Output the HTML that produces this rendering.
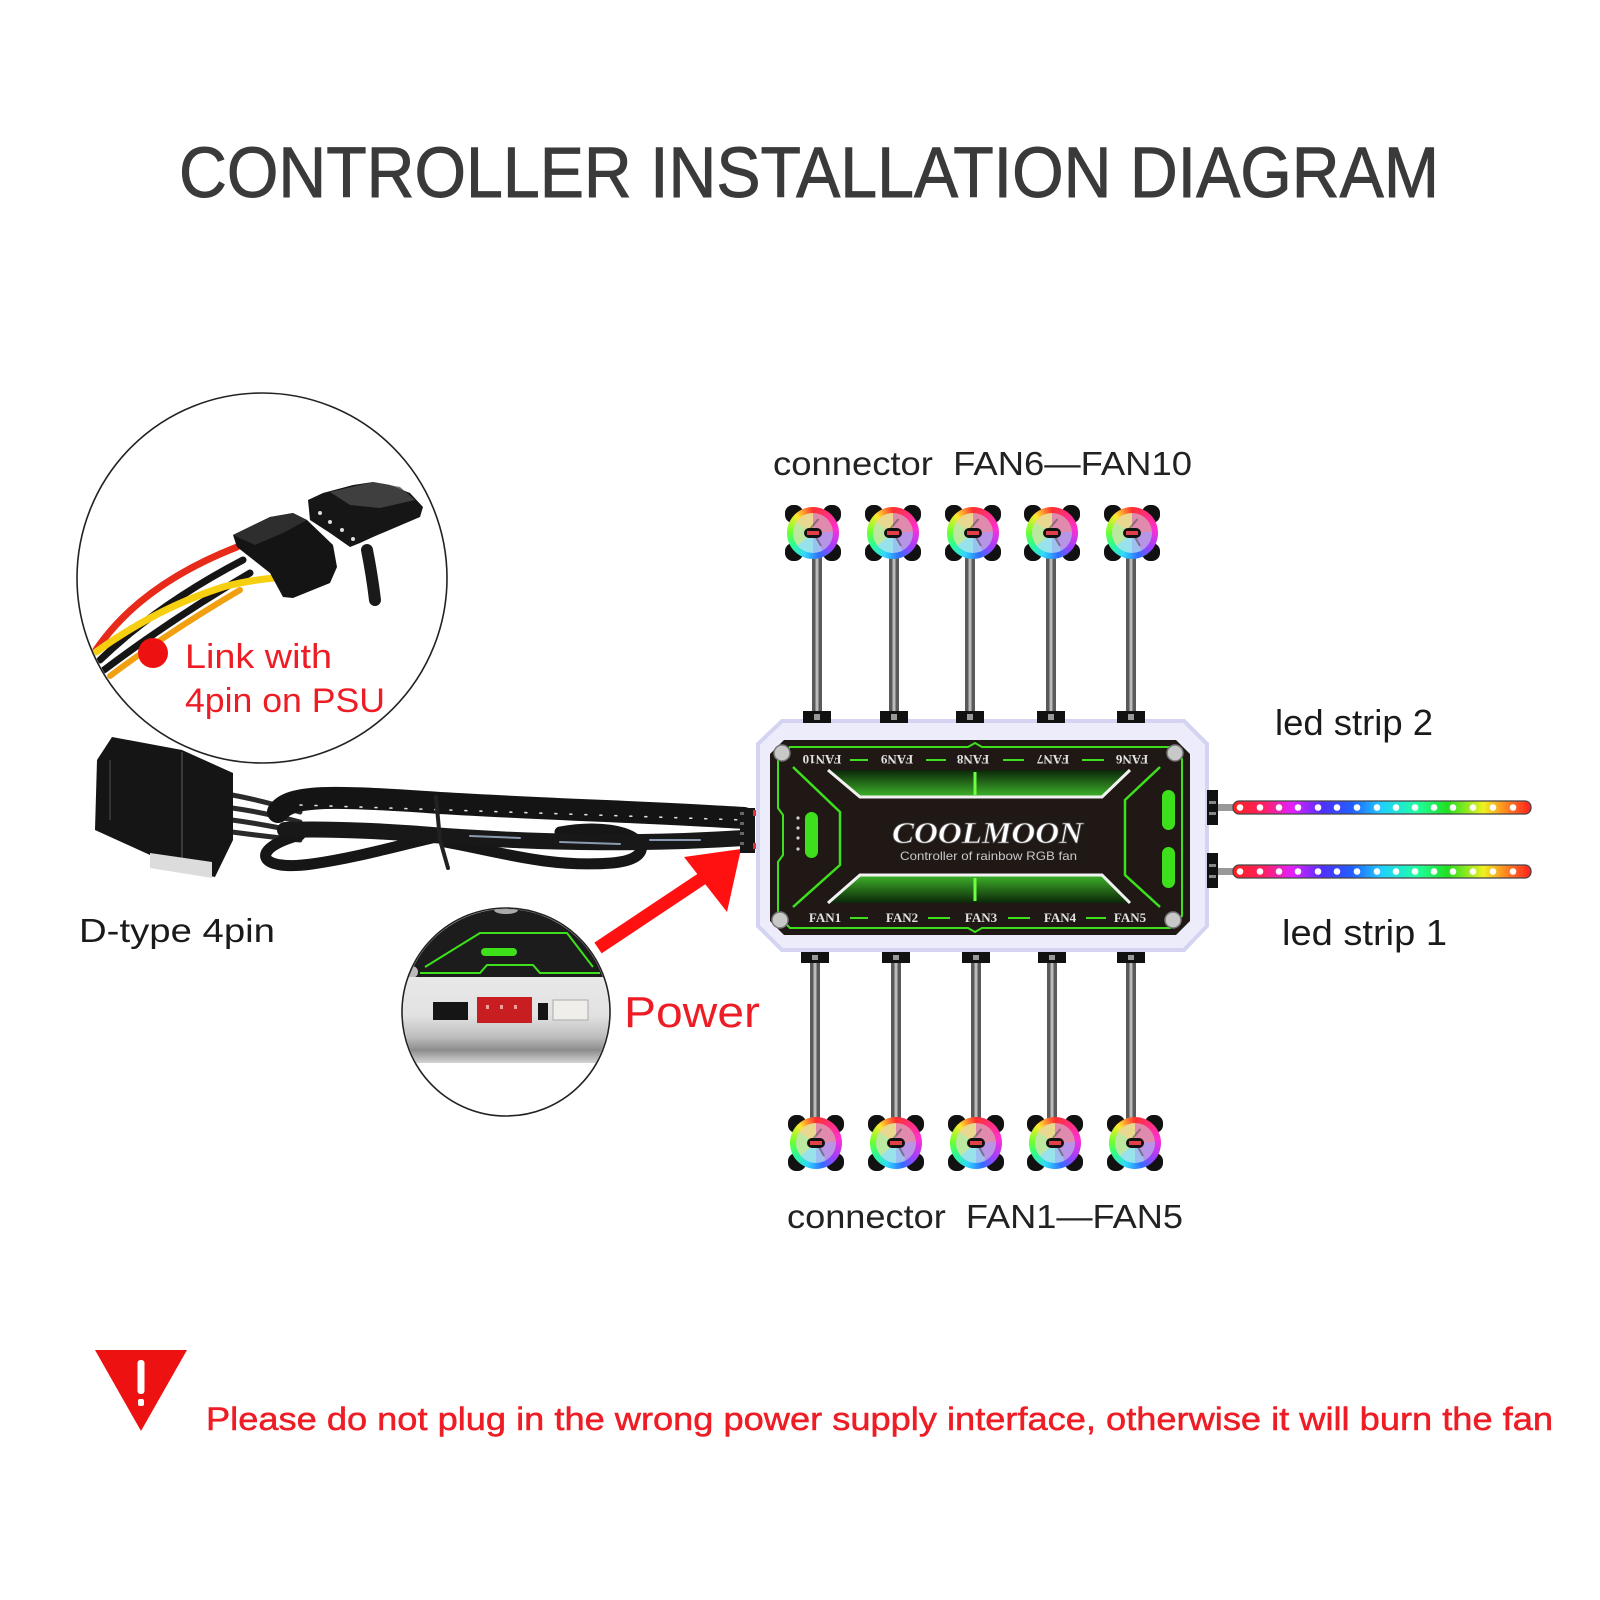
<!DOCTYPE html>
<html><head><meta charset="utf-8"><style>
html,body{margin:0;padding:0;background:#fff;}
#wrap{position:relative;width:1600px;height:1600px;overflow:hidden;background:#fff;}
svg{position:absolute;left:0;top:0;}
.fan{position:absolute;width:56px;height:56px;}
.fan .c{position:absolute;width:18px;height:18px;background:#111;border-radius:8px;}
.fan .ring{position:absolute;left:2px;top:2px;width:52px;height:52px;border-radius:50%;
background:conic-gradient(from 0deg,#ff3030,#ff30d0 22%,#9a40ff 36%,#3070ff 46%,#30d8ff 56%,#30ff80 68%,#70ff30 76%,#ffe830 88%,#ff3030);}
.fan .in{position:absolute;left:8px;top:8px;width:40px;height:40px;border-radius:50%;
background:conic-gradient(from 0deg,#e08aae 0 24%,#b894e6 24% 42%,#9cc0f0 42% 50%,#98e2ec 50% 64%,#bce8a0 64% 84%,#e8d890 84% 100%);}
.fan .bl{position:absolute;left:27px;top:12px;width:2px;height:17px;background:#555;transform:rotate(40deg);opacity:.6}
.fan .bl2{position:absolute;left:31px;top:26px;width:2px;height:16px;background:#555;transform:rotate(-30deg);opacity:.6}
.fan .hub{position:absolute;left:19px;top:23px;width:18px;height:10px;border-radius:5px;background:#111;}
.fan .hub i{position:absolute;left:3px;top:3px;width:12px;height:4px;background:#e04048;}
</style></head><body><div id="wrap">
<svg width="1600" height="1600" viewBox="0 0 1600 1600" xmlns="http://www.w3.org/2000/svg">
<defs>
<clipPath id="c1"><circle cx="262" cy="578" r="184"/></clipPath>
<clipPath id="c2"><circle cx="506" cy="1012" r="103"/></clipPath>
<linearGradient id="gtop" x1="0" y1="0" x2="0" y2="1"><stop offset="0" stop-color="#0c260a"/><stop offset="1" stop-color="#3fb52a"/></linearGradient>
<linearGradient id="gbot" x1="0" y1="0" x2="0" y2="1"><stop offset="0" stop-color="#3fb52a"/><stop offset="1" stop-color="#0c260a"/></linearGradient>
<linearGradient id="led" x1="0" y1="0" x2="1" y2="0">
<stop offset="0" stop-color="#ff2020"/><stop offset="0.1" stop-color="#ff2060"/><stop offset="0.2" stop-color="#e020ff"/><stop offset="0.3" stop-color="#5030ff"/><stop offset="0.4" stop-color="#2060ff"/><stop offset="0.5" stop-color="#20d0ff"/><stop offset="0.62" stop-color="#20ffa0"/><stop offset="0.72" stop-color="#20e020"/><stop offset="0.84" stop-color="#f0f020"/><stop offset="0.92" stop-color="#ff8020"/><stop offset="1" stop-color="#ff2020"/></linearGradient>
<linearGradient id="band" x1="0" y1="0" x2="0" y2="1"><stop offset="0" stop-color="#e8e8e8"/><stop offset="0.45" stop-color="#e2e2e2"/><stop offset="0.7" stop-color="#bdbdbd"/><stop offset="0.85" stop-color="#8c8c8c"/><stop offset="1" stop-color="#d4d4d4"/></linearGradient>
</defs>

<!-- Title -->
<text x="179" y="197" font-family="Liberation Sans, sans-serif" font-size="71" fill="#3a3a3a" stroke="#3a3a3a" stroke-width="0.9" textLength="1260" lengthAdjust="spacingAndGlyphs">CONTROLLER INSTALLATION DIAGRAM</text>

<!-- PSU circle -->
<circle cx="262" cy="578" r="185" fill="#fff" stroke="#222" stroke-width="1.6"/>
<g clip-path="url(#c1)" fill="none" stroke-linecap="round">
<path d="M96,650 Q140,585 237,547" stroke="#e82a1a" stroke-width="7"/>
<path d="M100,660 Q157,605 243,560" stroke="#151515" stroke-width="7"/>
<path d="M104,670 Q173,618 250,573" stroke="#151515" stroke-width="7"/>
<path d="M110,676 Q167,633 240,590" stroke="#f0a010" stroke-width="6"/>
<path d="M96,652 Q157,608 223,587 Q250,580 275,578" stroke="#f6d010" stroke-width="7"/>
<path d="M367,550 Q372,575 375,600" stroke="#1a1a1a" stroke-width="12"/>
</g>
<polygon points="233,535 270,517 293,513 307,520 333,545 337,567 330,583 293,598 283,597 270,573 237,547" fill="#141414"/>
<polygon points="233,535 270,517 293,513 307,520 285,532 255,545" fill="#2e2e2e"/>
<polygon points="308,500 323,493 353,485 373,482 390,485 410,493 423,507 420,517 373,537 360,543 350,547 330,533 310,520" fill="#161616"/>
<polygon points="330,492 373,482 400,487 415,500 380,508 350,505" fill="#4a4a4a" opacity="0.8"/>
<circle cx="320" cy="513" r="2" fill="#ddd"/><circle cx="330" cy="522" r="2" fill="#ddd"/><circle cx="342" cy="530" r="2" fill="#ddd"/><circle cx="353" cy="539" r="2" fill="#ddd"/>
<circle cx="153" cy="653" r="15" fill="#ee1111"/>
<text x="185" y="668" font-family="Liberation Sans, sans-serif" font-size="34" fill="#ee1c24" textLength="147" lengthAdjust="spacingAndGlyphs">Link with</text>
<text x="185" y="712" font-family="Liberation Sans, sans-serif" font-size="34" fill="#ee1c24" textLength="200" lengthAdjust="spacingAndGlyphs">4pin on PSU</text>

<!-- D-type cable -->
<g fill="none" stroke-linecap="round">
<path d="M232,795 Q260,800 300,812" stroke="#2a2a2a" stroke-width="5"/>
<path d="M232,808 Q262,812 300,822" stroke="#2a2a2a" stroke-width="5"/>
<path d="M232,820 Q262,824 300,832" stroke="#2a2a2a" stroke-width="5"/>
<path d="M232,832 Q262,836 300,840" stroke="#2a2a2a" stroke-width="5"/>
<path d="M300,835 C250,848 255,872 312,864 C360,857 400,845 445,835" stroke="#161616" stroke-width="11"/>
<path d="M560,832 C640,818 668,858 612,863 C550,868 500,852 445,842" stroke="#161616" stroke-width="11"/>
<path d="M278,812 C290,795 330,795 440,803 C560,810 650,812 744,818" stroke="#141414" stroke-width="22"/>
<path d="M285,830 C330,828 400,832 445,836 C560,844 650,844 744,838" stroke="#181818" stroke-width="16"/>
<path d="M300,805 L744,820" stroke="#dcdcdc" stroke-width="1.6" stroke-dasharray="2 13"/>
<path d="M470,836 L520,838 M560,842 L620,844 M650,840 L700,840" stroke="#8a9ab0" stroke-width="2"/>
<path d="M436,797 L440,840 L448,868" stroke="#222" stroke-width="4"/>
</g>
<polygon points="112,737 182,750 233,773 233,840 215,877 175,868 150,855 95,830 97,760" fill="#151515"/>
<path d="M182,752 L182,860" stroke="#3a3a3a" stroke-width="2"/>
<path d="M110,760 L110,820" stroke="#333" stroke-width="2"/>
<polygon points="150,853 212,862 212,878 150,868" fill="#dcdcdc"/>
<text x="79" y="942" font-family="Liberation Sans, sans-serif" font-size="33" fill="#1a1a1a" textLength="196" lengthAdjust="spacingAndGlyphs">D-type 4pin</text>

<!-- Power circle -->
<circle cx="506" cy="1012" r="104" fill="#fff" stroke="#222" stroke-width="1.6"/>
<g clip-path="url(#c2)">
<rect x="400" y="900" width="215" height="78" fill="#1c1c1c"/>
<ellipse cx="506" cy="910" rx="12" ry="4" fill="#aaa"/>
<polyline points="425,967 480,933 567,933 593,967" fill="none" stroke="#3ee01c" stroke-width="2"/>
<polyline points="420,973 480,973 487,965 533,965 540,973 600,973" fill="none" stroke="#3ee01c" stroke-width="2"/>
<rect x="481" y="948" width="36" height="8" rx="4" fill="#3ee01c"/>
<circle cx="412" cy="972" r="6" fill="#bbb"/>
<rect x="400" y="977" width="215" height="86" fill="url(#band)"/>
<rect x="433" y="1002" width="35" height="18" fill="#151515"/>
<rect x="477" y="997" width="55" height="26" fill="#c81e22"/>
<rect x="486" y="1005" width="3" height="4" fill="#f0a0a0"/><rect x="500" y="1005" width="3" height="4" fill="#f0a0a0"/><rect x="514" y="1005" width="3" height="4" fill="#f0a0a0"/>
<rect x="538" y="1003" width="10" height="17" fill="#151515"/>
<rect x="553" y="1000" width="35" height="20" fill="#f0eeea" stroke="#aaa" stroke-width="1"/>
</g>

<!-- Red arrow -->
<line x1="598" y1="948" x2="712" y2="872" stroke="#ff1111" stroke-width="13"/>
<polygon points="684,857 741,849 727,912" fill="#ff1111"/>
<text x="624" y="1027" font-family="Liberation Sans, sans-serif" font-size="44" fill="#ee1c24" textLength="136" lengthAdjust="spacingAndGlyphs">Power</text>

<!-- Stems top -->
<g>
<rect x="812" y="556" width="10" height="158" fill="#5a5a5a"/><rect x="815.5" y="556" width="3" height="158" fill="#bbb"/>
<rect x="889" y="556" width="10" height="158" fill="#5a5a5a"/><rect x="892.5" y="556" width="3" height="158" fill="#bbb"/>
<rect x="965" y="556" width="10" height="158" fill="#5a5a5a"/><rect x="968.5" y="556" width="3" height="158" fill="#bbb"/>
<rect x="1046" y="556" width="10" height="158" fill="#5a5a5a"/><rect x="1049.5" y="556" width="3" height="158" fill="#bbb"/>
<rect x="1126" y="556" width="10" height="158" fill="#5a5a5a"/><rect x="1129.5" y="556" width="3" height="158" fill="#bbb"/>
</g>
<!-- Stems bottom -->
<g>
<rect x="810" y="962" width="10" height="158" fill="#5a5a5a"/><rect x="813.5" y="962" width="3" height="158" fill="#bbb"/>
<rect x="891" y="962" width="10" height="158" fill="#5a5a5a"/><rect x="894.5" y="962" width="3" height="158" fill="#bbb"/>
<rect x="971" y="962" width="10" height="158" fill="#5a5a5a"/><rect x="974.5" y="962" width="3" height="158" fill="#bbb"/>
<rect x="1047" y="962" width="10" height="158" fill="#5a5a5a"/><rect x="1050.5" y="962" width="3" height="158" fill="#bbb"/>
<rect x="1126" y="962" width="10" height="158" fill="#5a5a5a"/><rect x="1129.5" y="962" width="3" height="158" fill="#bbb"/>
</g>

<!-- Controller case -->
<polygon points="782,721 1184,721 1207,744 1207,926 1184,950 782,950 758,926 758,744" fill="#ececfa" stroke="#d4d4f2" stroke-width="4"/>
<g fill="#111">
<rect x="803" y="711" width="28" height="12"/><rect x="880" y="711" width="28" height="12"/><rect x="956" y="711" width="28" height="12"/><rect x="1037" y="711" width="28" height="12"/><rect x="1117" y="711" width="28" height="12"/>
<rect x="801" y="952" width="28" height="11"/><rect x="882" y="952" width="28" height="11"/><rect x="962" y="952" width="28" height="11"/><rect x="1038" y="952" width="28" height="11"/><rect x="1117" y="952" width="28" height="11"/>
</g>
<g fill="#999">
<rect x="814" y="714" width="6" height="6"/><rect x="891" y="714" width="6" height="6"/><rect x="967" y="714" width="6" height="6"/><rect x="1048" y="714" width="6" height="6"/><rect x="1128" y="714" width="6" height="6"/>
<rect x="812" y="955" width="6" height="5"/><rect x="893" y="955" width="6" height="5"/><rect x="973" y="955" width="6" height="5"/><rect x="1049" y="955" width="6" height="5"/><rect x="1128" y="955" width="6" height="5"/>
</g>
<rect x="740" y="808" width="15" height="45" fill="#151515"/>
<rect x="740" y="812" width="4" height="3" fill="#666"/><rect x="740" y="822" width="4" height="3" fill="#666"/><rect x="740" y="832" width="4" height="3" fill="#666"/><rect x="740" y="842" width="4" height="3" fill="#666"/>
<rect x="753" y="810" width="3" height="6" fill="#e03030"/><rect x="753" y="843" width="3" height="6" fill="#e03030"/>

<!-- Black panel -->
<polygon points="784,740 1176,740 1190,754 1190,921 1176,935 784,935 770,921 770,754" fill="#1f1815"/>
<polygon points="790,747 968,747 975,743 982,747 1170,747 1182,759 1182,916 1170,928 982,928 975,932 968,928 790,928 778,916 778,862 783,855 783,815 778,808 778,759" fill="none" stroke="#3ee01c" stroke-width="2"/>
<polygon points="828,770 1130,770 1102,797 860,797" fill="url(#gtop)"/>
<polyline points="828,770 860,797 1102,797 1130,770" fill="none" stroke="#f2f2f2" stroke-width="3"/>
<polygon points="828,903 860,875 1102,875 1130,903" fill="url(#gbot)"/>
<polyline points="828,903 860,875 1102,875 1130,903" fill="none" stroke="#f2f2f2" stroke-width="3"/>
<path d="M975,772 L975,795 M975,878 L975,901" stroke="#6dff40" stroke-width="3"/>
<polyline points="793,767 840,812 840,865 793,907" fill="none" stroke="#3ee01c" stroke-width="2.5"/>
<polyline points="1160,767 1125,800 1125,875 1160,907" fill="none" stroke="#3ee01c" stroke-width="2.5"/>
<rect x="805" y="812" width="13" height="46" rx="6.5" fill="#3ee01c"/>
<rect x="1162" y="790" width="13" height="40" rx="6.5" fill="#3ee01c"/>
<rect x="1162" y="847" width="13" height="41" rx="6.5" fill="#3ee01c"/>
<g fill="#cfcfcf"><circle cx="798" cy="818" r="1.6"/><circle cx="798" cy="828" r="1.6"/><circle cx="798" cy="838" r="1.6"/><circle cx="798" cy="849" r="1.6"/></g>
<g fill="#c8c8c8" stroke="#777" stroke-width="1.5">
<circle cx="782" cy="753" r="8"/><circle cx="1175" cy="753" r="8"/><circle cx="780" cy="920" r="8"/><circle cx="1173" cy="920" r="8"/>
</g>
<g font-family="Liberation Serif, serif" font-weight="bold" font-size="13" fill="#e2e2e2" text-anchor="middle">
<text x="822" y="765" transform="rotate(180 822 760)">FAN10</text>
<text x="897" y="765" transform="rotate(180 897 760)">FAN9</text>
<text x="973" y="765" transform="rotate(180 973 760)">FAN8</text>
<text x="1053" y="765" transform="rotate(180 1053 760)">FAN7</text>
<text x="1132" y="765" transform="rotate(180 1132 760)">FAN6</text>
<text x="825" y="922">FAN1</text>
<text x="902" y="922">FAN2</text>
<text x="981" y="922">FAN3</text>
<text x="1060" y="922">FAN4</text>
<text x="1130" y="922">FAN5</text>
</g>
<path d="M850,760 L868,760 M926,760 L946,760 M1003,760 L1024,760 M1082,760 L1104,760 M850,918 L868,918 M928,918 L950,918 M1008,918 L1030,918 M1086,918 L1106,918" stroke="#3ee01c" stroke-width="2"/>
<text x="892" y="843" font-family="Liberation Serif, serif" font-weight="bold" font-style="italic" font-size="31" fill="#ffffff" stroke="#555" stroke-width="0.8" textLength="191" lengthAdjust="spacingAndGlyphs">COOLMOON</text>
<text x="900" y="860" font-family="Liberation Sans, sans-serif" font-size="12" fill="#c8c8c8" textLength="177" lengthAdjust="spacingAndGlyphs">Controller of rainbow RGB fan</text>

<!-- LED strips -->
<rect x="1207" y="790" width="11" height="35" fill="#111"/>
<rect x="1207" y="853" width="11" height="35" fill="#111"/>
<rect x="1209" y="801" width="7" height="3" fill="#888"/><rect x="1209" y="812" width="7" height="3" fill="#888"/>
<rect x="1209" y="864" width="7" height="3" fill="#888"/><rect x="1209" y="875" width="7" height="3" fill="#888"/>
<rect x="1218" y="804" width="16" height="7" fill="#999"/>
<rect x="1218" y="868" width="16" height="7" fill="#999"/>
<rect x="1233" y="801" width="298" height="13" rx="6" fill="url(#led)" stroke="#444" stroke-width="1.2"/>
<rect x="1233" y="865" width="298" height="13" rx="6" fill="url(#led)" stroke="#444" stroke-width="1.2"/>
<g fill="#ffffff">
<circle cx="1240" cy="807.5" r="3.3"/><circle cx="1260" cy="807.5" r="3.3"/><circle cx="1279" cy="807.5" r="3.3"/><circle cx="1298" cy="807.5" r="3.3"/><circle cx="1318" cy="807.5" r="3.3"/><circle cx="1337" cy="807.5" r="3.3"/><circle cx="1357" cy="807.5" r="3.3"/><circle cx="1377" cy="807.5" r="3.3"/><circle cx="1396" cy="807.5" r="3.3"/><circle cx="1415" cy="807.5" r="3.3"/><circle cx="1434" cy="807.5" r="3.3"/><circle cx="1453" cy="807.5" r="3.3"/><circle cx="1473" cy="807.5" r="3.3"/><circle cx="1493" cy="807.5" r="3.3"/><circle cx="1513" cy="807.5" r="3.3"/>
<circle cx="1240" cy="871.5" r="3.3"/><circle cx="1260" cy="871.5" r="3.3"/><circle cx="1279" cy="871.5" r="3.3"/><circle cx="1298" cy="871.5" r="3.3"/><circle cx="1318" cy="871.5" r="3.3"/><circle cx="1337" cy="871.5" r="3.3"/><circle cx="1357" cy="871.5" r="3.3"/><circle cx="1377" cy="871.5" r="3.3"/><circle cx="1396" cy="871.5" r="3.3"/><circle cx="1415" cy="871.5" r="3.3"/><circle cx="1434" cy="871.5" r="3.3"/><circle cx="1453" cy="871.5" r="3.3"/><circle cx="1473" cy="871.5" r="3.3"/><circle cx="1493" cy="871.5" r="3.3"/><circle cx="1513" cy="871.5" r="3.3"/>
</g>
<text x="1275" y="735" font-family="Liberation Sans, sans-serif" font-size="36" fill="#1a1a1a" textLength="158" lengthAdjust="spacingAndGlyphs">led strip 2</text>
<text x="1282" y="945" font-family="Liberation Sans, sans-serif" font-size="36" fill="#1a1a1a" textLength="165" lengthAdjust="spacingAndGlyphs">led strip 1</text>

<text x="773" y="475" font-family="Liberation Sans, sans-serif" font-size="33" fill="#222" textLength="419" lengthAdjust="spacingAndGlyphs" xml:space="preserve">connector  FAN6—FAN10</text>
<text x="787" y="1228" font-family="Liberation Sans, sans-serif" font-size="33" fill="#222" textLength="396" lengthAdjust="spacingAndGlyphs" xml:space="preserve">connector  FAN1—FAN5</text>

<!-- Warning -->
<polygon points="95,1350 187,1350 141,1431" fill="#ee1111"/>
<rect x="137.5" y="1360" width="7" height="34" rx="3" fill="#fff"/>
<rect x="138" y="1399" width="6" height="7" rx="2" fill="#fff"/>
<text x="206" y="1430" font-family="Liberation Sans, sans-serif" font-size="32" fill="#ee1c24" stroke="#ee1c24" stroke-width="0.5" textLength="1347" lengthAdjust="spacingAndGlyphs">Please do not plug in the wrong power supply interface, otherwise it will burn the fan</text>
</svg>

<div class="fan" style="left:785px;top:505px"><div class="c" style="left:0;top:0"></div><div class="c" style="right:0;top:0"></div><div class="c" style="left:0;bottom:0"></div><div class="c" style="right:0;bottom:0"></div><div class="ring"></div><div class="in"></div><div class="bl"></div><div class="bl2"></div><div class="hub"><i></i></div></div>
<div class="fan" style="left:865px;top:505px"><div class="c" style="left:0;top:0"></div><div class="c" style="right:0;top:0"></div><div class="c" style="left:0;bottom:0"></div><div class="c" style="right:0;bottom:0"></div><div class="ring"></div><div class="in"></div><div class="bl"></div><div class="bl2"></div><div class="hub"><i></i></div></div>
<div class="fan" style="left:945px;top:505px"><div class="c" style="left:0;top:0"></div><div class="c" style="right:0;top:0"></div><div class="c" style="left:0;bottom:0"></div><div class="c" style="right:0;bottom:0"></div><div class="ring"></div><div class="in"></div><div class="bl"></div><div class="bl2"></div><div class="hub"><i></i></div></div>
<div class="fan" style="left:1024px;top:505px"><div class="c" style="left:0;top:0"></div><div class="c" style="right:0;top:0"></div><div class="c" style="left:0;bottom:0"></div><div class="c" style="right:0;bottom:0"></div><div class="ring"></div><div class="in"></div><div class="bl"></div><div class="bl2"></div><div class="hub"><i></i></div></div>
<div class="fan" style="left:1104px;top:505px"><div class="c" style="left:0;top:0"></div><div class="c" style="right:0;top:0"></div><div class="c" style="left:0;bottom:0"></div><div class="c" style="right:0;bottom:0"></div><div class="ring"></div><div class="in"></div><div class="bl"></div><div class="bl2"></div><div class="hub"><i></i></div></div>
<div class="fan" style="left:788px;top:1115px"><div class="c" style="left:0;top:0"></div><div class="c" style="right:0;top:0"></div><div class="c" style="left:0;bottom:0"></div><div class="c" style="right:0;bottom:0"></div><div class="ring"></div><div class="in"></div><div class="bl"></div><div class="bl2"></div><div class="hub"><i></i></div></div>
<div class="fan" style="left:868px;top:1115px"><div class="c" style="left:0;top:0"></div><div class="c" style="right:0;top:0"></div><div class="c" style="left:0;bottom:0"></div><div class="c" style="right:0;bottom:0"></div><div class="ring"></div><div class="in"></div><div class="bl"></div><div class="bl2"></div><div class="hub"><i></i></div></div>
<div class="fan" style="left:948px;top:1115px"><div class="c" style="left:0;top:0"></div><div class="c" style="right:0;top:0"></div><div class="c" style="left:0;bottom:0"></div><div class="c" style="right:0;bottom:0"></div><div class="ring"></div><div class="in"></div><div class="bl"></div><div class="bl2"></div><div class="hub"><i></i></div></div>
<div class="fan" style="left:1027px;top:1115px"><div class="c" style="left:0;top:0"></div><div class="c" style="right:0;top:0"></div><div class="c" style="left:0;bottom:0"></div><div class="c" style="right:0;bottom:0"></div><div class="ring"></div><div class="in"></div><div class="bl"></div><div class="bl2"></div><div class="hub"><i></i></div></div>
<div class="fan" style="left:1107px;top:1115px"><div class="c" style="left:0;top:0"></div><div class="c" style="right:0;top:0"></div><div class="c" style="left:0;bottom:0"></div><div class="c" style="right:0;bottom:0"></div><div class="ring"></div><div class="in"></div><div class="bl"></div><div class="bl2"></div><div class="hub"><i></i></div></div>
</div></body></html>
